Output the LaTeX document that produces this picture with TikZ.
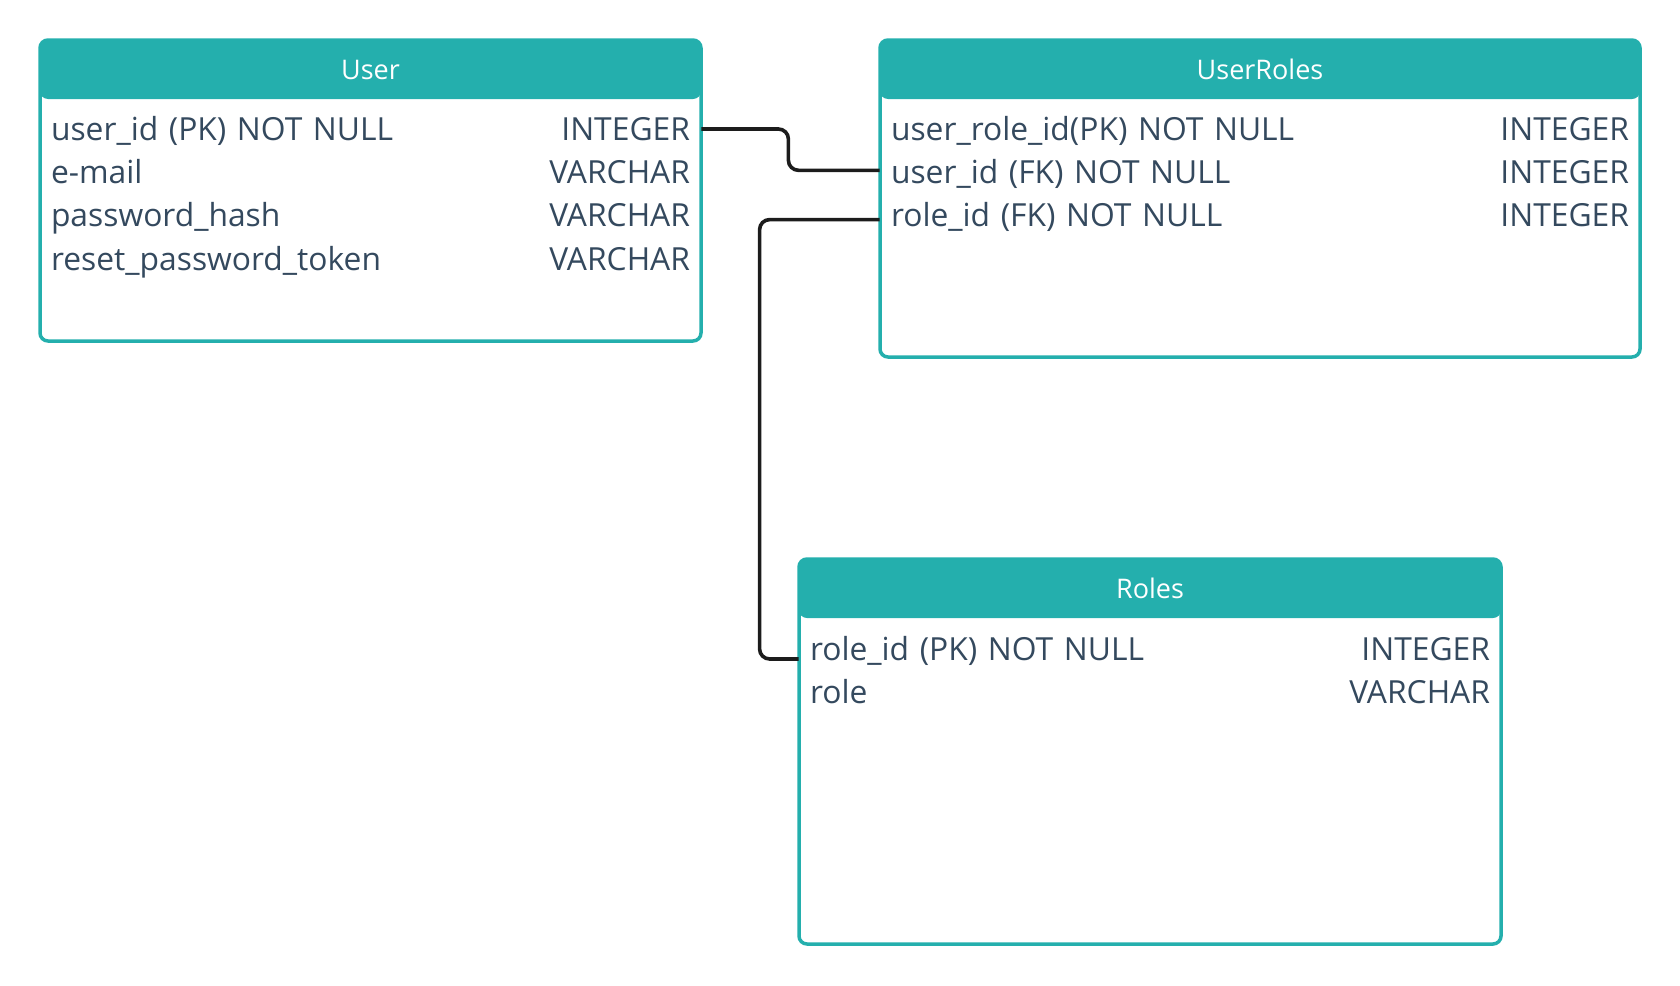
\documentclass[tikz,border=0pt]{standalone}
\usepackage{fontspec}
\setmainfont{Open Sans}
\usepackage{tikz}
\usepackage{xcolor}

\definecolor{erteal}{HTML}{24AFAD}
\definecolor{erink}{HTML}{34495E}
\definecolor{erwire}{HTML}{1C1C1C}

\newcommand{\fieldrow}[2]{#1\hskip 0pt plus 1filll\relax #2}

\begin{document}
\begin{tikzpicture}[x=0.5pt, y=-0.5pt,
  tablebox/.style={draw=erteal, line width=1.75pt, rounded corners=4pt, inner sep=0pt,
    path picture={\fill[erteal] (path picture bounding box.north west)
      rectangle ([yshift=-29.5pt]path picture bounding box.north east);}},
  headtext/.style={text=white, inner sep=0pt, font=\fontsize{13.5}{16}\selectfont,
    text height=9.6pt, text depth=0pt},
  row/.style={text=erink, inner xsep=5.5pt, inner ysep=0pt, font=\fontsize{15.9}{19}\selectfont,
    text height=11.35pt, text depth=0pt},
  link/.style={draw=erwire, line width=1.8pt, rounded corners=5pt}]

\useasboundingbox (0,0) rectangle (1680,985);

% Define tables
\node[tablebox, minimum width=330.5pt, minimum height=150.5pt] (user) at (370.5,190.5) {};
\node[tablebox, minimum width=380pt, minimum height=158.5pt] (userroles) at (1260,198.5) {};
\node[tablebox, minimum width=351pt, minimum height=192.5pt] (roles) at (1150,751.5) {};

% Table titles
\node[headtext] (userhead) at (370.5,69.5) {User};
\node[headtext] (userroleshead) at (1260,69.5) {UserRoles};
\node[headtext] (roleshead) at (1150,588.5) {Roles};

% User fields
\node[row, text width=319.5pt] (uid) at (370.5,129) {\fieldrow{user\_id (PK) NOT NULL}{INTEGER}};
\node[row, text width=319.5pt] (umail) at (370.5,172.3) {\fieldrow{e-mail}{VARCHAR}};
\node[row, text width=319.5pt] (uhash) at (370.5,215.6) {\fieldrow{password\_hash}{VARCHAR}};
\node[row, text width=319.5pt] (utoken) at (370.5,259) {\fieldrow{reset\_password\_token}{VARCHAR}};

% UserRoles fields
\node[row, text width=369pt] (rurid) at (1260,129) {\fieldrow{user\_role\_id(PK) NOT NULL}{INTEGER}};
\node[row, text width=369pt] (ruid) at (1260,172.3) {\fieldrow{user\_id (FK) NOT NULL}{INTEGER}};
\node[row, text width=369pt] (rrid) at (1260,215.6) {\fieldrow{role\_id (FK) NOT NULL}{INTEGER}};

% Roles fields
\node[row, text width=340pt] (rid) at (1150,649) {\fieldrow{role\_id (PK) NOT NULL}{INTEGER}};
\node[row, text width=340pt] (rname) at (1150,692.3) {\fieldrow{role}{VARCHAR}};

% Relations
\draw[link] (uid.east) -- ++(87,0) |- ([shift={(0,-2)}]ruid.west);
\draw[link] ([shift={(0,4)}]rrid.west) -- ++(-120,0) |- ([shift={(0,10)}]rid.west);

\end{tikzpicture}
\end{document}
